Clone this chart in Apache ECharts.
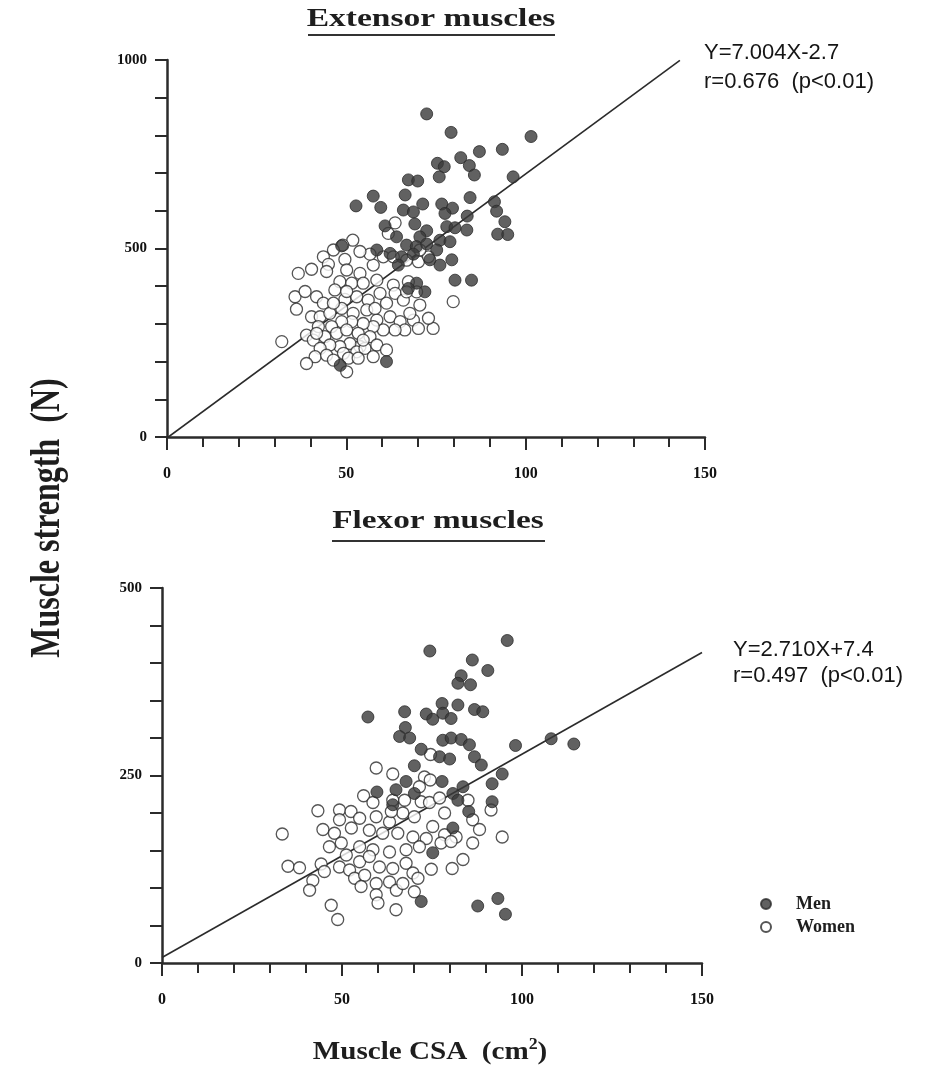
<!DOCTYPE html>
<html>
    <head>
        <meta charset="utf-8">
        <script src="https://cdn.jsdelivr.net/npm/echarts@6/dist/echarts.min.js"></script>
        <style>
            html, body { margin: 0; padding: 0; background: #fff; }
            #main { width: 930px; height: 1090px; }
        </style>
    </head>
    <body>
        <div id="main"></div>
        <script>
        // [muscle CSA (cm2), strength (N)]
        const extensorMen = [
            [72.4, 857], [79.2, 808], [101.5, 797], [87.1, 757], [93.5, 763], [81.9, 741], [75.4, 726],
            [77.3, 717], [84.3, 720], [85.7, 695], [75.9, 690], [96.5, 690], [67.3, 682], [69.9, 679],
            [57.5, 639], [66.4, 642], [84.5, 635], [52.7, 613], [59.6, 609], [71.3, 618], [76.6, 618],
            [79.6, 607], [91.3, 624], [91.9, 599], [65.9, 602], [68.7, 597], [77.5, 593], [83.7, 586],
            [94.2, 571], [92.2, 538], [95, 537], [60.8, 560], [69.1, 565], [72.4, 547], [78, 558],
            [80.3, 555], [83.6, 549], [64, 531], [70.5, 531], [76.1, 522], [78.9, 518], [48.7, 507],
            [58.5, 496], [66.8, 509], [69.5, 505], [72.4, 512], [75.2, 496], [62.2, 487], [65.4, 478],
            [68.7, 485], [79.4, 470], [76.1, 456], [73.3, 470], [64.5, 456], [80.3, 416], [84.9, 416],
            [69.6, 408], [71.9, 385], [67.3, 394], [61.2, 200], [48.3, 190]
        ];
        const extensorWomen = [
            [51.8, 522], [49.0, 509], [46.4, 496], [43.6, 478], [45.0, 458], [49.6, 471], [36.6, 434],
            [40.3, 445], [44.5, 439], [50.1, 443], [53.8, 434], [57.5, 456], [56.6, 485], [60.3, 478],
            [63.6, 568], [61.7, 540], [63.1, 478], [66.8, 469], [70.1, 465], [72.9, 478], [70.5, 496],
            [48.2, 412], [51.5, 408], [54.7, 408], [58.5, 416], [63.1, 403], [67.3, 412], [69.6, 385],
            [79.8, 359], [70.5, 350], [35.7, 372], [38.5, 386], [36.1, 339], [41.7, 372], [43.6, 355],
            [46.8, 390], [49.6, 365], [52.9, 372], [56.1, 363], [59.4, 381], [63.6, 381], [65.9, 363],
            [40.3, 319], [42.7, 319], [45.4, 328], [48.7, 341], [51.9, 328], [55.7, 337], [58.5, 310],
            [62.2, 319], [65.0, 306], [68.7, 310], [70.1, 288], [74.2, 288], [66.3, 284], [63.6, 284],
            [60.3, 284], [57.5, 293], [54.7, 301], [51.5, 306], [48.7, 306], [45.9, 293], [42.2, 293],
            [38.9, 270], [32.0, 253], [40.8, 257], [44.0, 266], [47.3, 275], [50.1, 284], [53.3, 275],
            [56.6, 266], [53.8, 240], [51.0, 248], [48.2, 240], [45.4, 244], [42.7, 235], [41.3, 213],
            [44.5, 217], [49.2, 222], [52.9, 226], [55.2, 235], [58.5, 244], [61.2, 231], [57.5, 213],
            [38.9, 195], [46.4, 204], [50.6, 209], [53.3, 209], [50.1, 173], [54.7, 257], [41.7, 275],
            [46.4, 355], [58.0, 341], [61.2, 355], [67.7, 328], [66.8, 385], [72.9, 315], [53.8, 492],
            [50.1, 386]
        ];
        const flexorMen = [
            [95.9, 430], [74.4, 416], [86.2, 404], [90.5, 390], [83.1, 383], [82.2, 373], [85.7, 371],
            [57.2, 328], [67.4, 335], [73.4, 332], [77.8, 346], [82.2, 344], [78.0, 333], [80.3, 326],
            [75.2, 325], [86.8, 338], [89.1, 335], [67.6, 314], [66.0, 302], [68.8, 300], [78.0, 297],
            [80.3, 300], [83.1, 298], [85.4, 291], [72.0, 285], [77.1, 275], [79.9, 272], [86.8, 275],
            [88.7, 264], [98.2, 290], [108.1, 299], [114.4, 292], [70.1, 263], [94.5, 252], [91.7, 239],
            [83.6, 235], [67.8, 242], [77.8, 242], [59.7, 228], [65.0, 231], [70.1, 226], [80.8, 226],
            [82.2, 217], [91.7, 215], [85.2, 202], [64.1, 211], [80.8, 180], [75.2, 147], [72.0, 82],
            [87.7, 76], [93.3, 86], [95.4, 65]
        ];
        const flexorWomen = [
            [59.5, 260], [64.1, 252], [74.6, 278], [72.9, 248], [74.5, 244], [71.5, 235], [56.0, 223],
            [58.6, 214], [64.1, 217], [67.4, 217], [72.0, 215], [74.3, 214], [77.1, 220], [85.0, 217],
            [43.3, 203], [49.3, 204], [52.5, 202], [54.9, 193], [49.3, 191], [59.5, 195], [63.2, 188],
            [66.9, 200], [70.1, 195], [78.5, 200], [91.4, 204], [86.3, 191], [88.2, 178], [75.2, 182],
            [44.7, 178], [47.9, 173], [52.6, 180], [57.6, 177], [61.3, 173], [65.5, 173], [69.7, 168],
            [73.4, 166], [78.5, 171], [81.7, 168], [86.3, 160], [94.5, 168], [33.4, 172], [46.5, 155],
            [49.8, 160], [54.9, 155], [58.6, 151], [63.2, 148], [67.8, 151], [71.5, 155], [77.5, 160],
            [80.3, 162], [35.0, 129], [38.2, 127], [41.9, 110], [41.0, 97], [44.2, 132], [45.1, 122],
            [49.3, 128], [52.1, 124], [54.9, 135], [57.6, 142], [60.4, 128], [64.1, 126], [67.8, 133],
            [69.7, 120], [74.8, 125], [80.6, 126], [83.6, 138], [53.5, 113], [56.3, 117], [55.3, 102],
            [59.5, 106], [63.2, 108], [65.1, 97], [59.5, 91], [60.0, 80], [65.0, 71], [70.1, 95],
            [71.1, 113], [47.0, 77], [48.8, 58], [66.9, 106], [51.2, 144], [63.7, 202]
        ];
        // regression lines, end points
        const extensorFit = [[0, -2.7], [143, 999]];
        const flexorFit = [[0, 7.4], [150, 414]];

        const xTicks = { min: 0, max: 150, step: 50 };
        const extensorTicks = { min: 0, max: 1000, step: 500 };
        const flexorTicks = { min: 0, max: 500, step: 250 };

        const ink = '#2b2b2b';
        const serif = 'Liberation Serif';
        const sans = 'Liberation Sans';

        function xAxis(gridIndex) {
            return {
                gridIndex,
                type: 'value',
                min: xTicks.min,
                max: xTicks.max,
                interval: xTicks.step,
                axisLine: { lineStyle: { color: ink, width: 2.5 } },
                axisTick: { length: 13, lineStyle: { color: ink, width: 2 } },
                minorTick: { show: true, splitNumber: 5, length: 10, lineStyle: { color: ink, width: 2 } },
                splitLine: { show: false },
                axisLabel: { margin: 29, color: '#111', fontFamily: serif, fontWeight: 'bold', fontSize: 16 }
            };
        }

        function yAxis(gridIndex, ticks) {
            return {
                gridIndex,
                type: 'value',
                min: ticks.min,
                max: ticks.max,
                interval: ticks.step,
                axisLine: { show: true, lineStyle: { color: ink, width: 2.5 } },
                axisTick: { show: true, length: 12, lineStyle: { color: ink, width: 2 } },
                minorTick: { show: true, splitNumber: 5, length: 12, lineStyle: { color: ink, width: 2 } },
                splitLine: { show: false },
                axisLabel: {
                    margin: 20, color: '#111', fontFamily: serif, fontWeight: 'bold', fontSize: 15,
                    formatter: (v) => String(v)
                }
            };
        }

        const menStyle = { color: '#3a3a3a', borderColor: '#2a2a2a', borderWidth: 1 };
        const womenStyle = { color: '#fff', borderColor: '#2a2a2a', borderWidth: 1.3 };

        function scatter(name, idx, data, style) {
            return {
                name, type: 'scatter', xAxisIndex: idx, yAxisIndex: idx,
                data, symbolSize: 12, itemStyle: style, z: 3
            };
        }

        function fitLine(idx, data) {
            return {
                type: 'line', xAxisIndex: idx, yAxisIndex: idx, data,
                symbol: 'none', lineStyle: { color: ink, width: 1.6 }, z: 2, silent: true
            };
        }

        // the scanned lettering is wide, so headings are stretched sideways
        function heading(text, x, y, size, stretch) {
            return {
                type: 'text', x, y, scaleX: stretch,
                style: {
                    text, fill: '#1e1e1e', font: 'bold ' + size + 'px "Liberation Serif"',
                    textAlign: 'center', textVerticalAlign: 'middle'
                }
            };
        }

        function underline(x1, x2, y) {
            return { type: 'line', shape: { x1, y1: y, x2, y2: y }, style: { stroke: '#333', lineWidth: 2 } };
        }

        const chart = echarts.init(document.getElementById('main'));
        chart.setOption({
            animation: false,
            backgroundColor: '#fff',
            title: [{
                text: 'Y=7.004X-2.7\nr=0.676  (p<0.01)', left: 699, top: 33,
                textStyle: { fontFamily: sans, fontWeight: 'normal', fontSize: 22, lineHeight: 29, color: '#151515' }
            }, {
                text: 'Y=2.710X+7.4\nr=0.497  (p<0.01)', left: 728, top: 632,
                textStyle: { fontFamily: sans, fontWeight: 'normal', fontSize: 22, lineHeight: 26, color: '#151515' }
            }],
            graphic: [
                heading('Extensor muscles', 431, 19, 26, 1.29),
                underline(308, 555, 35),
                heading('Flexor muscles', 438, 521, 26, 1.28),
                underline(332, 545, 541),
                {
                    type: 'text', x: 430, y: 1052, scaleX: 1.12,
                    style: {
                        text: 'Muscle CSA  (cm{sup|2})', fill: '#1e1e1e', font: 'bold 26px "Liberation Serif"',
                        textAlign: 'center', textVerticalAlign: 'middle',
                        rich: { sup: { font: 'bold 16px "Liberation Serif"', fill: '#1e1e1e', verticalAlign: 'top', lineHeight: 30 } }
                    }
                },
                {
                    type: 'text', x: 48, y: 518, rotation: Math.PI / 2, scaleY: 1.3,
                    style: {
                        text: 'Muscle strength  (N)', fill: '#1e1e1e', font: 'bold 32px "Liberation Serif"',
                        textAlign: 'center', textVerticalAlign: 'middle'
                    }
                }
            ],
            legend: {
                orient: 'vertical', left: 755, top: 889, itemGap: 3,
                itemWidth: 10, itemHeight: 10, icon: 'circle',
                textStyle: {
                    fontFamily: serif, fontWeight: 'bold', fontSize: 18, lineHeight: 20,
                    color: '#1e1e1e', padding: [0, 0, 0, 20]
                },
                data: ['Men', 'Women']
            },
            grid: [
                { left: 167, top: 60, width: 538, height: 377 },
                { left: 162, top: 588, width: 540, height: 375 }
            ],
            xAxis: [xAxis(0), xAxis(1)],
            yAxis: [yAxis(0, extensorTicks), yAxis(1, flexorTicks)],
            series: [
                fitLine(0, extensorFit),
                scatter('Women', 0, extensorWomen, womenStyle),
                scatter('Men', 0, extensorMen, menStyle),
                fitLine(1, flexorFit),
                scatter('Women', 1, flexorWomen, womenStyle),
                scatter('Men', 1, flexorMen, menStyle)
            ]
        });
        </script>
    </body>
</html>
